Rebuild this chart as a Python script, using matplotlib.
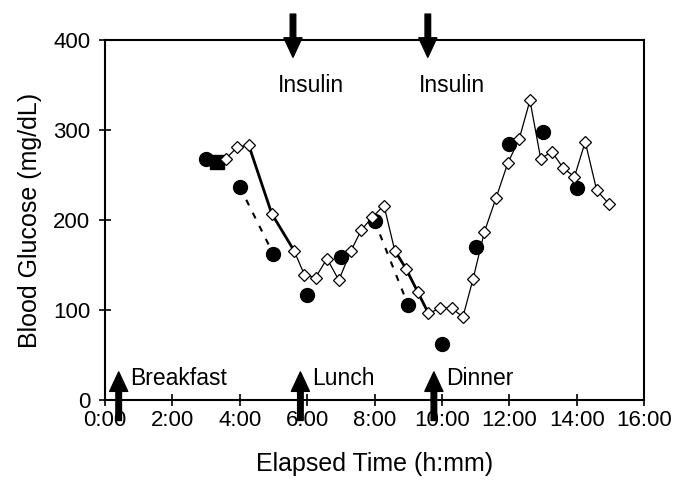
import matplotlib
matplotlib.use('Agg')
import matplotlib.pyplot as plt

plt.rcParams['font.family'] = ['Liberation Sans', 'DejaVu Sans']

# continuous sensor readings (open diamonds): hours since start, mg/dL
sensor_t = [3.58, 3.93, 4.27, 4.95, 5.61, 5.92, 6.25, 6.59, 6.94, 7.29, 7.61,
            7.93, 8.28, 8.60, 8.93, 9.28, 9.60, 9.95, 10.29, 10.62, 10.92,
            11.26, 11.60, 11.95, 12.29, 12.61, 12.93, 13.26, 13.59, 13.93,
            14.25, 14.59, 14.95]
sensor_g = [268, 281, 283, 207, 166, 139, 136, 157, 133, 165, 189,
            203, 216, 166, 146, 120, 96, 102, 102, 92, 134,
            187, 224, 263, 290, 333, 268, 276, 258, 248,
            287, 233, 218]

# reference meter readings (filled circles)
meter_t = [3, 4, 5, 6, 7, 8, 9, 10, 11, 12, 13, 14]
meter_g = [268, 237, 162, 117, 159, 199, 105, 62, 170, 284, 298, 236]

# calibration point (filled square)
calib_t = [3.32]
calib_g = [265]

# events
meal_t = [0.41, 5.80, 9.76]
meal_names = ['Breakfast', 'Lunch', 'Dinner']
insulin_t = [5.58, 9.58]
insulin_label_t = [6.11, 10.30]

fig = plt.figure(figsize=(6.81, 4.84), dpi=100)
ax = fig.add_axes([0.154, 0.174, 0.792, 0.743])

# dashed lines between meter readings during the fast drops
for i in [1, 5]:
    ax.plot(meter_t[i:i + 2], meter_g[i:i + 2], color='black', lw=1.5,
            ls=(0, (3, 4)), zorder=2)
ax.plot(meter_t, meter_g, 'o', color='black', ms=10, zorder=3)
ax.plot(calib_t, calib_g, 's', color='black', ms=10, zorder=3)

# thicker sensor segments during the drops
for a, b in [(2, 5), (13, 17)]:
    ax.plot(sensor_t[a:b], sensor_g[a:b], color='black', lw=2, zorder=4)
ax.plot(sensor_t, sensor_g, color='black', lw=0.9, marker='D', ms=6.5,
        mfc='white', mec='black', mew=0.9, zorder=5)

arrow = dict(facecolor='black', edgecolor='black', width=4, headwidth=13,
             headlength=14, shrink=0)
for t, name in zip(meal_t, meal_names):
    ax.annotate('', xy=(t, 31), xytext=(t, -23), arrowprops=arrow,
                annotation_clip=False, zorder=6)
    ax.text(t + 0.35, 24, name, fontsize=16.5, ha='left', va='center')
for t, lt in zip(insulin_t, insulin_label_t):
    ax.annotate('', xy=(t, 381), xytext=(t, 429), arrowprops=arrow,
                annotation_clip=False, zorder=6)
    ax.text(lt, 350, 'Insulin', fontsize=16.5, ha='center', va='center')

ax.set_xlim(0, 16)
ax.set_ylim(0, 400)
ax.set_xticks(range(0, 17, 2))
ax.set_xticklabels(['%d:00' % h for h in range(0, 17, 2)])
ax.set_yticks(range(0, 401, 100))
ax.tick_params(direction='inout', length=9, width=1.2, labelsize=16)
ax.tick_params(axis='x', pad=3)
ax.tick_params(axis='y', pad=6)
for s in ax.spines.values():
    s.set_linewidth(1.5)
ax.set_xlabel('Elapsed Time (h:mm)', fontsize=18, labelpad=15)
ax.set_ylabel('Blood Glucose (mg/dL)', fontsize=18, labelpad=8)

fig.savefig('out.png', dpi=100)
